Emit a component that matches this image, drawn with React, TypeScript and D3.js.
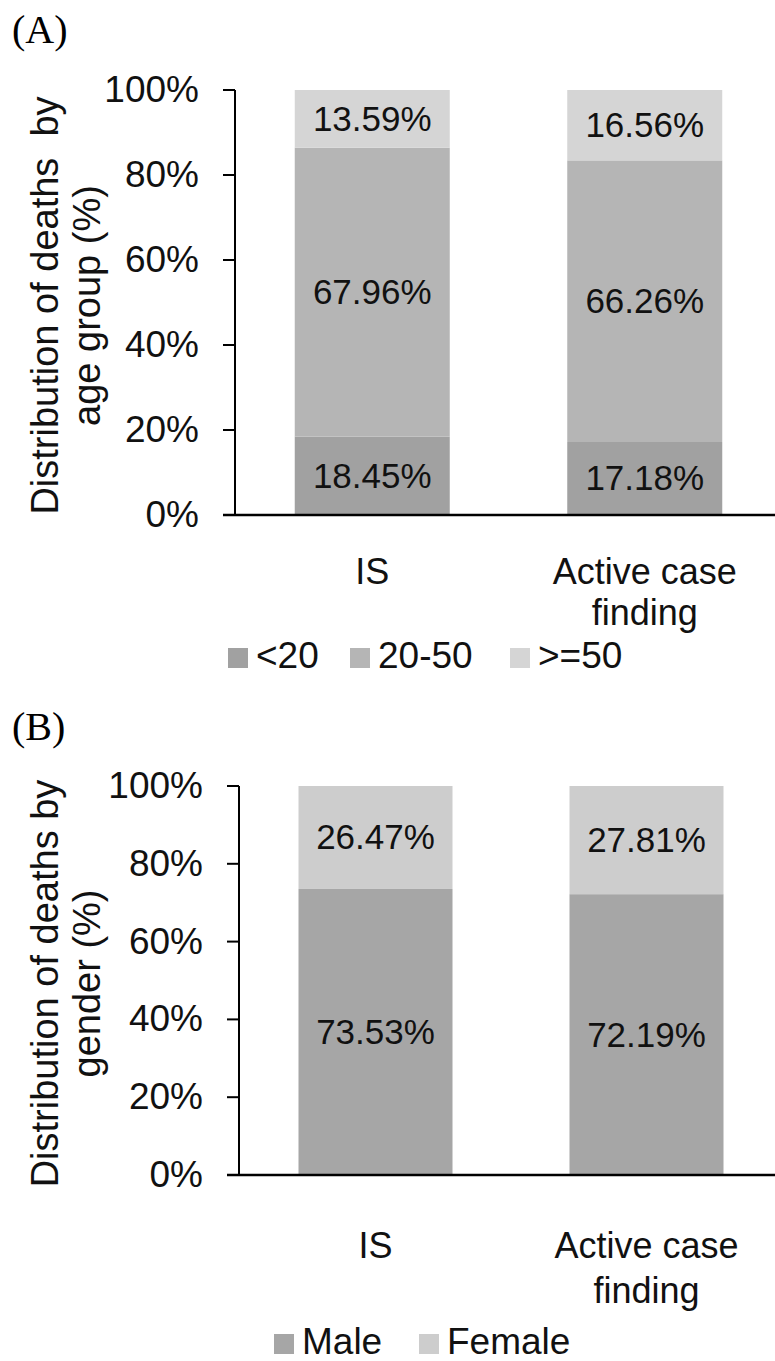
import React from "react";
import * as d3 from "d3";

const categories = ["IS", "Active case finding"];
const categoryLines = [["IS"], ["Active case", "finding"]];
const yTicks = [0, 20, 40, 60, 80, 100];

const ageSeries = ["<20", "20-50", ">=50"];
const ageLt20 = [18.45, 17.18];
const age20to50 = [67.96, 66.26];
const ageGe50 = [13.59, 16.56];
const ageColors = ["#a1a1a1", "#b5b5b5", "#d5d5d5"];

const genderSeries = ["Male", "Female"];
const genderMale = [73.53, 72.19];
const genderFemale = [26.47, 27.81];
const genderColors = ["#a6a6a6", "#cdcdcd"];

const FONT = "'Liberation Sans', Arial, Helvetica, sans-serif";

type PanelProps = {
  tag: string;
  tagY: number;
  top: number;
  bottom: number;
  axisX: number;
  step: number;
  barW: number;
  series: string[];
  values: number[][];
  colors: string[];
  titleLines: string[];
  titleX: number[];
  catY: number[];
  legendY: number;
  legendX: number[];
};

function Panel(p: PanelProps) {
  const y = d3.scaleLinear().domain([0, 100]).range([p.bottom, p.top]);
  const pi = 1 - p.barW / p.step;
  const x = d3
    .scaleBand<string>()
    .domain(categories)
    .range([p.axisX + 1, p.axisX + 1 + p.step * 2])
    .paddingInner(pi)
    .paddingOuter(pi / 2);
  const stackData = categories.map((c, i) => {
    const o: any = { cat: c };
    p.series.forEach((s, k) => (o[s] = p.values[k][i]));
    return o;
  });
  const stacked = d3.stack<any>().keys(p.series)(stackData);
  const titleCenter = (p.top + p.bottom) / 2 + 3;
  return (
    <g>
      <text x={12} y={p.tagY} fontFamily="'Liberation Serif', 'Times New Roman', serif" fontSize={40} fill="#000">
        {p.tag}
      </text>
      {stacked.map((layer, k) => (
        <g key={k}>
          {layer.map((d, i) => (
            <rect
              key={i}
              x={x(categories[i])!}
              y={y(d[1])}
              width={x.bandwidth()}
              height={y(d[0]) - y(d[1])}
              fill={p.colors[k]}
            />
          ))}
          {layer.map((d, i) => (
            <text
              key={"t" + i}
              x={x(categories[i])! + x.bandwidth() / 2}
              y={(y(d[0]) + y(d[1])) / 2 + 12}
              textAnchor="middle"
              fontFamily={FONT}
              fontSize={35}
              fill="#111"
            >
              {p.values[k][i].toFixed(2)}%
            </text>
          ))}
        </g>
      ))}
      <line x1={p.axisX} x2={p.axisX} y1={p.top} y2={p.bottom} stroke="#000" strokeWidth={2} />
      {yTicks.map((t) => (
        <g key={t}>
          <line x1={p.axisX - 12} x2={p.axisX} y1={y(t)} y2={y(t)} stroke="#000" strokeWidth={2} />
          <text
            x={p.axisX - 36}
            y={y(t) + 12}
            textAnchor="end"
            fontFamily={FONT}
            fontSize={37}
            fill="#111"
          >
            {t}%
          </text>
        </g>
      ))}
      <line x1={p.axisX - 12} x2={775} y1={p.bottom} y2={p.bottom} stroke="#000" strokeWidth={2.5} />
      {categoryLines.map((lines, i) =>
        lines.map((l, j) => (
          <text
            key={i + "-" + j}
            x={x(categories[i])! + x.bandwidth() / 2}
            y={p.catY[j]}
            textAnchor="middle"
            fontFamily={FONT}
            fontSize={36}
            fill="#111"
          >
            {l}
          </text>
        ))
      )}
      {p.titleLines.map((l, j) => (
        <text
          key={"title" + j}
          transform={`translate(${p.titleX[j]},${titleCenter}) rotate(-90)`}
          textAnchor="middle"
          fontFamily={FONT}
          fontSize={38}
          fill="#111"
          style={{ whiteSpace: "pre" }}
        >
          {l}
        </text>
      ))}
      {p.series.map((s, k) => (
        <g key={"leg" + s}>
          <rect x={p.legendX[k]} y={p.legendY - 20} width={20} height={20} fill={p.colors[k]} />
          <text x={p.legendX[k] + 28} y={p.legendY} fontFamily={FONT} fontSize={37} fill="#111">
            {s}
          </text>
        </g>
      ))}
    </g>
  );
}

export default function App() {
  return (
    <svg width={775} height={1361} style={{ position: "absolute", left: 0, top: 0 }}>
      <rect width={775} height={1361} fill="#fff" />
      <Panel
        tag="(A)"
        tagY={43}
        top={90}
        bottom={515}
        axisX={235}
        step={272.5}
        barW={155}
        series={ageSeries}
        values={[ageLt20, age20to50, ageGe50]}
        colors={ageColors}
        titleLines={["Distribution of deaths  by", "age group (%)"]}
        titleX={[58, 100]}
        catY={[584, 625]}
        legendY={668}
        legendX={[228, 350, 510]}
      />
      <Panel
        tag="(B)"
        tagY={740}
        top={786}
        bottom={1175}
        axisX={239}
        step={271}
        barW={154}
        series={genderSeries}
        values={[genderMale, genderFemale]}
        colors={genderColors}
        titleLines={["Distribution of deaths by", "gender (%)"]}
        titleX={[58, 100]}
        catY={[1258, 1303]}
        legendY={1354}
        legendX={[274, 419]}
      />
    </svg>
  );
}
